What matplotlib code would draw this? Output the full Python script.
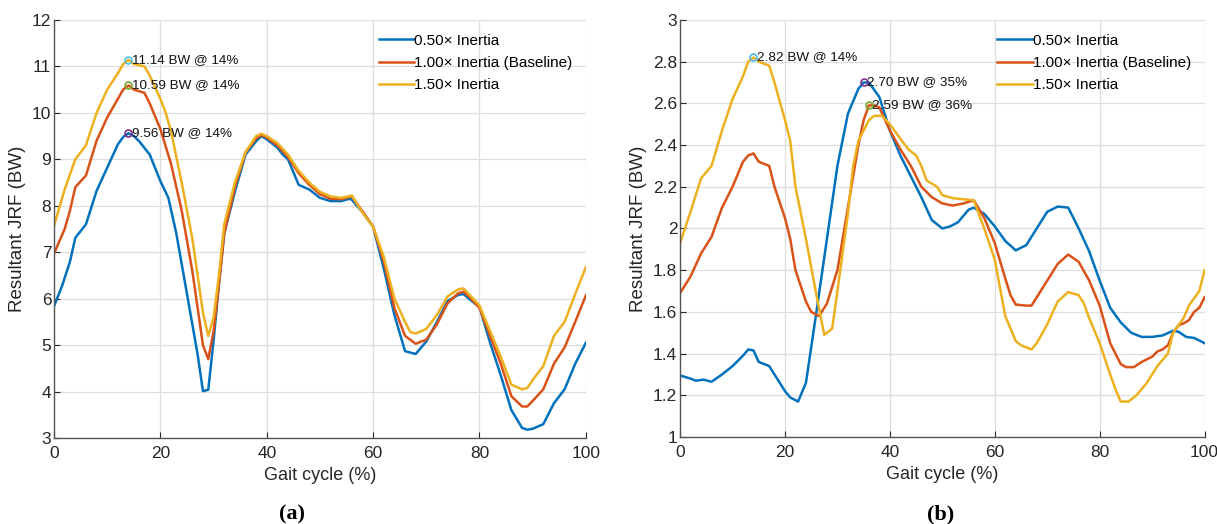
import matplotlib.pyplot as plt

plt.rcParams['font.family'] = ['Liberation Sans', 'DejaVu Sans']

# ---- panel (a) ----
xa_lo = [0, 1.5, 3, 4, 6, 8, 10, 12, 13, 14, 15, 16, 18, 20, 21.5, 23, 25, 27, 28, 29, 30, 31, 32, 34, 36, 38,
         39, 40, 42, 43, 44, 46, 48, 50, 52, 54, 55.5, 56, 58, 60, 62, 64, 66, 68, 70, 72, 74, 76, 77, 78, 80,
         82, 84, 86, 88, 89, 90, 92, 94, 96, 98, 100]
ya_lo = [5.84, 6.27, 6.8, 7.31, 7.6, 8.32, 8.82, 9.32, 9.48, 9.56, 9.5, 9.39, 9.1, 8.53, 8.17, 7.4, 6.1, 4.8,
         4.01, 4.04, 5.1, 6.3, 7.4, 8.3, 9.1, 9.39, 9.5, 9.43, 9.25, 9.1, 9.0, 8.45, 8.35, 8.17, 8.1, 8.1, 8.15,
         8.13, 7.86, 7.55, 6.65, 5.65, 4.87, 4.81, 5.08, 5.5, 5.95, 6.08, 6.1, 6.0, 5.82, 5.05, 4.35, 3.6, 3.22,
         3.18, 3.2, 3.3, 3.75, 4.05, 4.6, 5.05]

xa_mid = [0, 2, 3, 4, 6, 8, 10, 12, 13, 14, 15, 17, 18, 20, 22, 24, 26, 28, 29, 30, 31, 32, 34, 36, 38, 39, 40,
          42, 44, 46, 48, 50, 52, 54, 56, 58, 60, 62, 64, 66, 68, 70, 72, 74, 76, 77, 78, 80, 82, 84, 86, 88,
          89, 90, 92, 94, 96, 98, 100]
ya_mid = [6.97, 7.5, 7.9, 8.4, 8.65, 9.4, 9.9, 10.3, 10.5, 10.59, 10.5, 10.43, 10.2, 9.65, 8.9, 7.9, 6.6, 5.0,
          4.7, 5.3, 6.3, 7.4, 8.4, 9.15, 9.45, 9.52, 9.47, 9.3, 9.05, 8.7, 8.45, 8.25, 8.15, 8.14, 8.2, 7.88,
          7.55, 6.8, 5.8, 5.2, 5.03, 5.12, 5.45, 5.9, 6.12, 6.15, 6.05, 5.8, 5.2, 4.6, 3.9, 3.68, 3.68, 3.8,
          4.05, 4.6, 4.95, 5.5, 6.07]

xa_hi = [0, 2, 4, 6, 8, 10, 12, 13, 14, 15, 17, 18, 20, 21, 22, 24, 26, 28, 29, 30, 31, 32, 34, 36, 38, 39,
         40, 42, 44, 46, 48, 50, 52, 54, 56, 58, 60, 62, 64, 66, 67, 68, 70, 72, 74, 76, 77, 78, 80, 82, 84,
         86, 88, 89, 90, 92, 94, 96, 98, 100]
ya_hi = [7.57, 8.35, 9.0, 9.3, 10.0, 10.5, 10.85, 11.05, 11.14, 11.05, 11.0, 10.8, 10.3, 10.0, 9.6, 8.5, 7.3,
         5.7, 5.2, 5.6, 6.5, 7.6, 8.5, 9.15, 9.5, 9.55, 9.5, 9.35, 9.1, 8.75, 8.5, 8.3, 8.2, 8.17, 8.22, 7.85,
         7.55, 6.9, 6.0, 5.5, 5.28, 5.25, 5.35, 5.65, 6.05, 6.2, 6.22, 6.1, 5.85, 5.3, 4.75, 4.15, 4.05, 4.08,
         4.25, 4.55, 5.2, 5.5, 6.1, 6.68]

# ---- panel (b) ----
xb_lo = [0, 2, 3, 4.5, 6, 8, 10, 12, 13, 14, 15, 17, 18, 20, 21, 22.5, 24, 25, 26, 28, 30, 32, 34, 35, 36, 38,
         40, 42, 44, 45, 46, 48, 50, 51.5, 53, 55, 56, 58, 60, 62, 64, 66, 68, 70, 72, 74, 76, 78, 80, 82, 84,
         86, 88, 90, 92, 94, 95, 96.5, 98, 100]
yb_lo = [1.295, 1.28, 1.27, 1.275, 1.265, 1.3, 1.34, 1.39, 1.42, 1.415, 1.36, 1.34, 1.3, 1.22, 1.19, 1.17,
         1.26, 1.43, 1.6, 1.95, 2.3, 2.55, 2.67, 2.70, 2.7, 2.63, 2.47, 2.35, 2.25, 2.2, 2.15, 2.04, 2.0, 2.01,
         2.03, 2.09, 2.1, 2.07, 2.01, 1.94, 1.895, 1.92, 2.0, 2.08, 2.105, 2.1, 2.0, 1.89, 1.75, 1.62, 1.55,
         1.5, 1.48, 1.48, 1.487, 1.51, 1.505, 1.48, 1.475, 1.45]

xb_mid = [0, 2, 4, 5, 6, 8, 10, 12, 13, 14, 15, 17, 18, 20, 21, 22, 24, 25, 26.5, 28, 30, 32, 34, 35, 36, 37,
          38, 40, 42, 44, 46, 48, 50, 52, 54, 56, 58, 60, 62, 63, 64, 66, 67, 68, 70, 72, 74, 76, 78, 80, 82,
          84, 85, 86.5, 88, 90, 91, 92, 93, 94, 95, 96, 97, 98, 99, 100]
yb_mid = [1.69, 1.77, 1.88, 1.92, 1.96, 2.1, 2.2, 2.32, 2.35, 2.36, 2.32, 2.3, 2.2, 2.05, 1.95, 1.8, 1.65, 1.6,
          1.58, 1.64, 1.8, 2.1, 2.4, 2.52, 2.59, 2.59, 2.58, 2.47, 2.38, 2.3, 2.2, 2.15, 2.12, 2.11, 2.12,
          2.135, 2.05, 1.93, 1.76, 1.68, 1.635, 1.63, 1.63, 1.67, 1.75, 1.83, 1.875, 1.84, 1.75, 1.63, 1.45,
          1.35, 1.335, 1.335, 1.36, 1.385, 1.41, 1.42, 1.44, 1.5, 1.535, 1.545, 1.56, 1.6, 1.62, 1.67]

xb_hi = [0, 2, 4, 5, 6, 8, 10, 12, 13, 14, 15, 17, 18, 20, 21, 22, 24, 26, 27.5, 29, 30, 32, 33, 34, 36, 37,
         38.5, 40, 42, 43.5, 45, 46, 47, 49, 50, 52, 54, 56, 58, 60, 62, 63, 64, 65, 67, 68, 70, 72, 74, 76,
         77, 78, 80, 82, 83, 84, 85.5, 87, 89, 90, 91, 93, 94, 96, 97, 99, 100]
yb_hi = [1.93, 2.08, 2.24, 2.27, 2.3, 2.47, 2.62, 2.73, 2.8, 2.82, 2.8, 2.78, 2.7, 2.52, 2.42, 2.2, 1.95, 1.68,
         1.49, 1.52, 1.7, 2.07, 2.3, 2.42, 2.52, 2.54, 2.54, 2.5, 2.43, 2.38, 2.35, 2.3, 2.23, 2.2, 2.16,
         2.145, 2.14, 2.135, 2.0, 1.85, 1.58, 1.52, 1.46, 1.44, 1.42, 1.45, 1.54, 1.65, 1.695, 1.68, 1.64,
         1.57, 1.45, 1.3, 1.23, 1.17, 1.17, 1.2, 1.26, 1.3, 1.34, 1.4, 1.5, 1.57, 1.63, 1.7, 1.8]

labels = ['0.50\u00d7 Inertia', '1.00\u00d7 Inertia (Baseline)', '1.50\u00d7 Inertia']
colors = ['#0072BD', '#D95319', '#EDB120']

# peak annotations: (x, y, marker colour, text)
peaks_a = [(14, 11.14, '#4DBEEE', '11.14 BW @ 14%'),
           (14, 10.59, '#77AC30', '10.59 BW @ 14%'),
           (14, 9.56, '#7E2F8E', '9.56 BW @ 14%')]
peaks_b = [(14, 2.82, '#4DBEEE', '2.82 BW @ 14%'),
           (35, 2.70, '#7E2F8E', '2.70 BW @ 35%'),
           (36, 2.59, '#77AC30', '2.59 BW @ 36%')]

fig = plt.figure(figsize=(12.17, 5.24), dpi=100)
ax1 = fig.add_axes([0.0444, 0.164, 0.437, 0.798])
ax2 = fig.add_axes([0.5588, 0.166, 0.431, 0.796])

panels = [(ax1, [(xa_lo, ya_lo), (xa_mid, ya_mid), (xa_hi, ya_hi)], peaks_a, (3, 12), range(3, 13), '(a)', 0.240),
          (ax2, [(xb_lo, yb_lo), (xb_mid, yb_mid), (xb_hi, yb_hi)], peaks_b, (1, 3),
           [1, 1.2, 1.4, 1.6, 1.8, 2, 2.2, 2.4, 2.6, 2.8, 3], '(b)', 0.773)]

for ax, series, peaks, ylim, yticks, tag, tag_x in panels:
    for (xs, ys), c, lab in zip(series, colors, labels):
        ax.plot(xs, ys, color=c, lw=1.8, label=lab)
    for px, py, mc, txt in peaks:
        ax.plot(px, py, 'o', ms=5, mfc='none', mec=mc, mew=1.2)
        ax.text(px + 0.6, py, txt, fontsize=9.7, va='center', ha='left', color='#111111')
    ax.set_xlim(0, 100)
    ax.set_ylim(*ylim)
    ax.set_xticks([0, 20, 40, 60, 80, 100])
    ax.set_yticks(list(yticks))
    ax.set_yticklabels([('%g' % v) for v in yticks])
    ax.grid(True, color='#dedede', lw=0.9)
    ax.set_axisbelow(True)
    for s in ['top', 'right']:
        ax.spines[s].set_visible(False)
    for s in ['left', 'bottom']:
        ax.spines[s].set_color('#555555')
        ax.spines[s].set_linewidth(1.0)
    ax.tick_params(direction='in', length=4, labelsize=12.5, colors='#262626')
    ax.tick_params(axis='x', pad=6)
    ax.tick_params(axis='y', pad=2)
    ax.set_xlabel('Gait cycle (%)', fontsize=13, color='#262626', labelpad=4)
    ax.set_ylabel('Resultant JRF (BW)', fontsize=13.5, color='#262626', labelpad=4)
    ax.legend(loc='upper right', frameon=False, fontsize=11, handlelength=2.3,
              handletextpad=0.0, labelspacing=0.55, borderaxespad=0.6, borderpad=0.3)
    fig.text(tag_x, 0.0, tag, fontsize=16, fontweight='bold', family='Liberation Serif',
             ha='center', va='bottom')

fig.savefig('out.png', dpi=100)
